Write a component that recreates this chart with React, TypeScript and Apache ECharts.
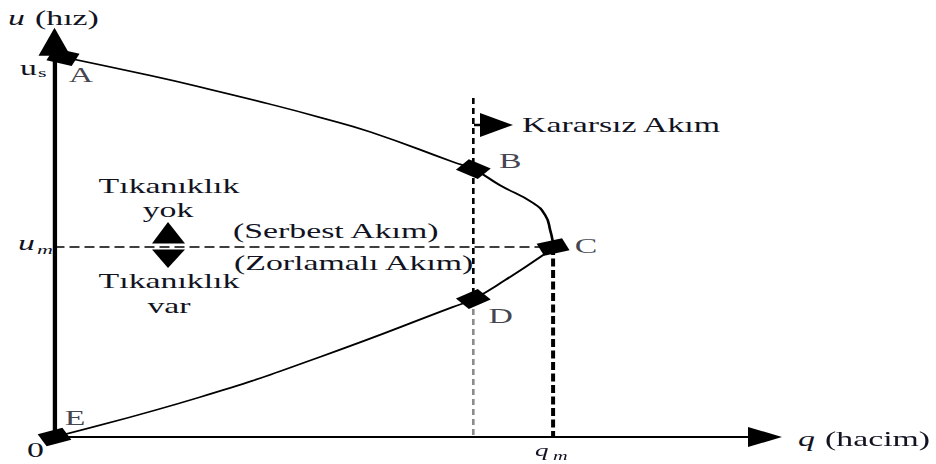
import React, { useEffect, useRef } from "react";
import * as echarts from "echarts";

// Speed–flow curve: q = hacim (flow), u = hız (speed); q_m = 100, u_s = 100
const curveQ = [1.7, 19.2, 29.2, 43.2, 53.3, 63.3, 79.9, 84, 89.3, 96.0, 98.4, 99.4, 100, 98.0, 90.4, 84, 79.9, 53.3, 29.2, 0];
const curveU = [100, 95.1, 92.1, 87.6, 84.1, 80.3, 72.4, 70.5, 66.3, 61.6, 58.4, 54.5, 50, 47.9, 41.3, 36.3, 34.2, 21.1, 10.5, 0];

// Named points on the curve
const pointNames = ["A", "B", "C", "D", "E"];
const pointQ = [1.7, 84, 100, 84, 0];
const pointU = [100, 70.5, 50, 36.3, 0];

const qMaxFlow = 100; // q_m
const uCritical = 50; // u_m
const unstableTop = 89.2; // upper end of the Kararsız Akım boundary
const qAxisMax = 142.5;
const uAxisMax = 104;

// The figure is drawn at a narrower width and stretched horizontally
const SX = 1.69;
const W = 936 / SX;
const H = 464;
const INK = "#111322";
const FAMILY = "Liberation Serif";

// marker rotation (deg) and label offset (px) per point
const markerRotate: Record<string, number> = { A: -21, B: -36, C: 20, D: 36, E: 24 };
const labelOffset: Record<string, [number, number]> = {
  A: [18 / SX, 18.2],
  B: [37 / SX, -7.5],
  C: [33 / SX, -0.5],
  D: [27.5 / SX, 17.5],
  E: [20.5 / SX, -18.5],
};

function txt(text: string, x: number, y: number, opts: any = {}) {
  const align = opts.align || "left";
  return {
    type: "text",
    x,
    y,
    z: 20,
    silent: true,
    style: {
      text,
      fontFamily: FAMILY,
      fontSize: opts.size || 20,
      fontStyle: opts.italic ? "italic" : "normal",
      fill: INK,
      textAlign: align,
      textVerticalAlign: "middle",
      align,
      verticalAlign: "middle",
    },
  };
}

export default function App() {
  const ref = useRef<HTMLDivElement>(null);

  useEffect(() => {
    if (!ref.current) return;
    const chart = echarts.init(ref.current, null, { renderer: "svg", width: W, height: H });

    const dashed = (data: number[][], color: string, width: number, dash: number[]) => ({
      type: "line",
      data,
      symbol: "none",
      silent: true,
      z: 2,
      lineStyle: { color, width, type: dash },
    });

    const option: any = {
      animation: false,
      backgroundColor: "#ffffff",
      textStyle: { fontFamily: FAMILY },
      grid: { left: 54.5 / SX, top: 437 - uAxisMax * 3.8, width: (765 - 54.5) / SX, height: uAxisMax * 3.8, outerBoundsMode: "none" },
      xAxis: {
        type: "value",
        min: 0,
        max: qAxisMax,
        axisLine: {
          show: true,
          onZero: false,
          symbol: ["none", "triangle"],
          symbolSize: [20, 34 / SX],
          lineStyle: { color: "#000", width: 2 },
        },
        axisTick: { show: false },
        axisLabel: { show: false },
        splitLine: { show: false },
      },
      yAxis: {
        type: "value",
        min: 0,
        max: uAxisMax,
        axisLine: {
          show: true,
          onZero: false,
          symbol: ["none", "triangle"],
          symbolSize: [32 / SX, 28],
          lineStyle: { color: "#000", width: 4.3 / SX },
        },
        axisTick: { show: false },
        axisLabel: { show: false },
        splitLine: { show: false },
      },
      series: [
        dashed([[0, uCritical], [qMaxFlow, uCritical]], "#000", 1.5, [10 / SX, 5 / SX]),
        dashed([[pointQ[1], unstableTop], [pointQ[3], pointU[3]]], "#000", 2.6 / SX, [6, 4]),
        dashed([[pointQ[3], pointU[3]], [pointQ[3], 0]], "#8c8c8c", 2.6 / SX, [6, 4]),
        dashed([[qMaxFlow, uCritical], [qMaxFlow, 0]], "#000", 4 / SX, [8, 3.5]),
        {
          type: "line",
          name: "u-q",
          data: curveQ.map((q, i) => [q, curveU[i]]),
          smooth: 0.5,
          symbol: "none",
          silent: true,
          z: 3,
          lineStyle: { color: "#000", width: 1.6 },
        },
        {
          type: "scatter",
          z: 5,
          silent: true,
          symbol: "rect",
          symbolSize: [16, 13],
          itemStyle: { color: "#000", opacity: 1 },
          data: pointNames.map((n, i) => ({
            name: n,
            value: [pointQ[i], pointU[i]],
            symbolRotate: markerRotate[n],
          })),
        },
        {
          type: "scatter",
          z: 6,
          silent: true,
          symbolSize: 0,
          data: pointNames.map((n, i) => ({
            name: n,
            value: [pointQ[i], pointU[i]],
            label: {
              show: true,
              position: "inside",
              offset: labelOffset[n],
              formatter: "{b}",
              color: INK,
              fontFamily: FAMILY,
              fontSize: 20,
              align: "center",
              verticalAlign: "middle",
            },
          })),
        },
      ],
      graphic: [
        // axis titles
        txt("u", 8 / SX, 18.2, { italic: true }),
        txt("(hız)", 35 / SX, 18.2),
        txt("q", 798 / SX, 439.2, { italic: true }),
        txt("(hacim)", 825 / SX, 439.2),
        txt("0", 27 / SX, 450),
        // u_s
        txt("u", 20 / SX, 68.2),
        txt("s", 38 / SX, 72.6, { size: 13 }),
        // u_m
        txt("u", 18 / SX, 243.2, { italic: true }),
        txt("m", 37 / SX, 249.6, { italic: true, size: 13 }),
        // q_m
        txt("q", 535 / SX, 450.6, { italic: true, size: 16 }),
        txt("m", 553 / SX, 455.9, { italic: true, size: 12 }),
        // regime notes
        txt("Tıkanıklık", 169 / SX, 186.2, { align: "center" }),
        txt("yok", 168 / SX, 210, { align: "center" }),
        txt("Tıkanıklık", 169 / SX, 281.2, { align: "center" }),
        txt("var", 169 / SX, 306.2, { align: "center" }),
        txt("(Serbest Akım)", 233 / SX, 231.2),
        txt("(Zorlamalı Akım)", 234 / SX, 263.2),
        txt("Kararsız Akım", 522 / SX, 125),
        // up / down arrow between the regimes
        {
          type: "polygon",
          z: 20,
          silent: true,
          shape: { points: [[168 / SX, 222], [152 / SX, 243.5], [185 / SX, 243.5]] },
          style: { fill: "#000" },
        },
        {
          type: "polygon",
          z: 20,
          silent: true,
          shape: { points: [[152 / SX, 249.5], [185 / SX, 249.5], [168 / SX, 268]] },
          style: { fill: "#000" },
        },
        // arrow pointing to the unstable region
        {
          type: "line",
          z: 20,
          silent: true,
          shape: { x1: 474 / SX, y1: 125, x2: 483 / SX, y2: 125 },
          style: { stroke: "#000", lineWidth: 2.5 },
        },
        {
          type: "polygon",
          z: 20,
          silent: true,
          shape: { points: [[480 / SX, 113], [480 / SX, 137], [513 / SX, 125]] },
          style: { fill: "#000" },
        },
      ],
    };

    chart.setOption(option);
    return () => chart.dispose();
  }, []);

  return (
    <div
      style={{
        position: "fixed",
        left: 0,
        top: 0,
        width: 936,
        height: 464,
        overflow: "hidden",
        background: "#ffffff",
      }}
    >
      <div
        ref={ref}
        style={{ width: W, height: H, transform: `scaleX(${SX})`, transformOrigin: "0 0" }}
      />
    </div>
  );
}
